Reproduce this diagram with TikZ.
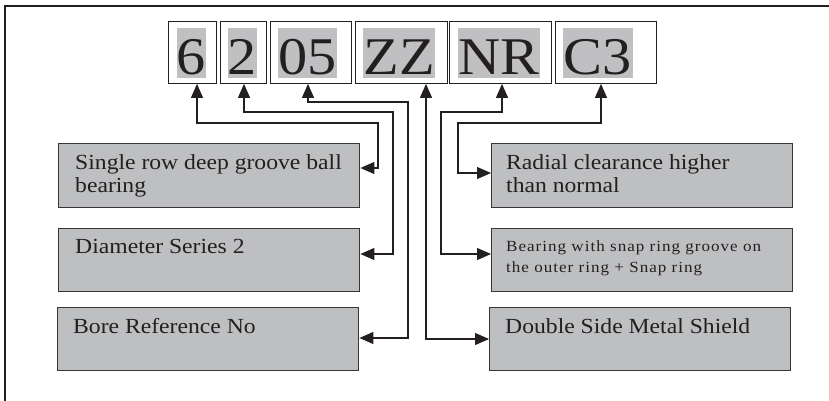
\documentclass[tikz,border=0pt]{standalone}
\usepackage{fontspec}
\setmainfont{Liberation Serif}[FakeStretch=1.1]
\usetikzlibrary{arrows.meta,calc}
\definecolor{boxgray}{RGB}{190,191,193}
\definecolor{hlgray}{RGB}{192,192,194}
\definecolor{ink}{RGB}{35,31,32}
\begin{document}
\begin{tikzpicture}[x=1pt,y=-1pt,
  codebox/.style={draw=ink, line width=0.9pt, anchor=north west, inner sep=0, minimum height=62pt},
  desc/.style={draw=ink!90, fill=boxgray, line width=1.4pt, anchor=north west, inner sep=0, minimum width=301pt},
  conn/.style={draw=ink, line width=1.1pt, {Triangle[length=14pt,width=12pt]}-{Triangle[length=14pt,width=12pt]}},
  codetxt/.style={font=\fontsize{53}{53}\selectfont, text=ink, anchor=base, inner sep=0},
  desctxt/.style={font=\fontsize{21.5}{23}\selectfont, text=ink, anchor=base west, inner sep=0},
  smalltxt/.style={font=\fontsize{15.5}{21}\selectfont\addfontfeature{LetterSpace=6.5}, text=ink, anchor=base west, inner sep=0}]
\useasboundingbox (0,0) rectangle (829,401);
% frame
\draw[ink, line width=2pt] (829,6) -- (4.5,6) -- (4.5,401);
% highlights
\fill[hlgray] (177,28) rectangle (206,78);
\fill[hlgray] (228,28) rectangle (257,78);
\fill[hlgray] (278,28) rectangle (337,78);
\fill[hlgray] (363,28) rectangle (435,78);
\fill[hlgray] (458,28) rectangle (540,78);
\fill[hlgray] (563,28) rectangle (633,78);
% code boxes
\node[codebox, minimum width=48pt] (c6) at (168,21) {};
\node[codebox, minimum width=46pt] (c2) at (220,21) {};
\node[codebox, minimum width=81pt] (c05) at (270,21) {};
\node[codebox, minimum width=92pt] (cZZ) at (355,21) {};
\node[codebox, minimum width=102pt] (cNR) at (449,21) {};
\node[codebox, minimum width=101pt] (cC3) at (555,21) {};
\node[codetxt] (t6) at (191.5,75) {6};
\node[codetxt] (t2) at (242.5,75) {2};
\node[codetxt] (t05) at (307.5,75) {05};
\node[codetxt] (tZZ) at (399,75) {ZZ};
\node[codetxt] (tNR) at (499,75) {NR};
\node[codetxt] (tC3) at (598,75) {C3};
% description boxes
\node[desc, minimum height=64pt] (d1) at (58,143) {};
\node[desc, minimum height=63pt] (d2) at (58,228) {};
\node[desc, minimum height=63pt] (d3) at (57,307) {};
\node[desc, minimum height=64pt] (d4) at (491,143) {};
\node[desc, minimum height=63pt] (d5) at (491,228) {};
\node[desc, minimum height=63pt] (d6) at (489,307) {};
\node[desctxt] (l1) at (75,169) {\parbox[t]{280pt}{Single row deep groove ball\\bearing}};
\node[desctxt] (l2) at (75,253) {Diameter Series 2};
\node[desctxt] (l3) at (73,333) {Bore Reference No};
\node[desctxt] (l4) at (506,169) {\parbox[t]{280pt}{Radial clearance higher\\than normal}};
\node[smalltxt] (l5) at (506,251) {\parbox[t]{284pt}{Bearing with snap ring groove on\\the outer ring + Snap ring}};
\node[desctxt] (l6) at (505,333) {Double Side Metal Shield};
% connectors
\draw[conn] (c6.south -| 197,0) |- (378,123) |- (d1.east |- 0,168);
\draw[conn] (c2.south -| 244,0) |- (393,112) |- (d2.east |- 0,254);
\draw[conn] (c05.south -| 308,0) |- (408,102) |- (d3.east |- 0,338);
\draw[conn] (cZZ.south -| 426,0) |- (d6.west |- 0,339);
\draw[conn] (cNR.south -| 502,0) |- (441,112) |- (d5.west |- 0,254);
\draw[conn] (cC3.south -| 601,0) |- (458,123) |- (d4.west |- 0,173);
\end{tikzpicture}
\end{document}
